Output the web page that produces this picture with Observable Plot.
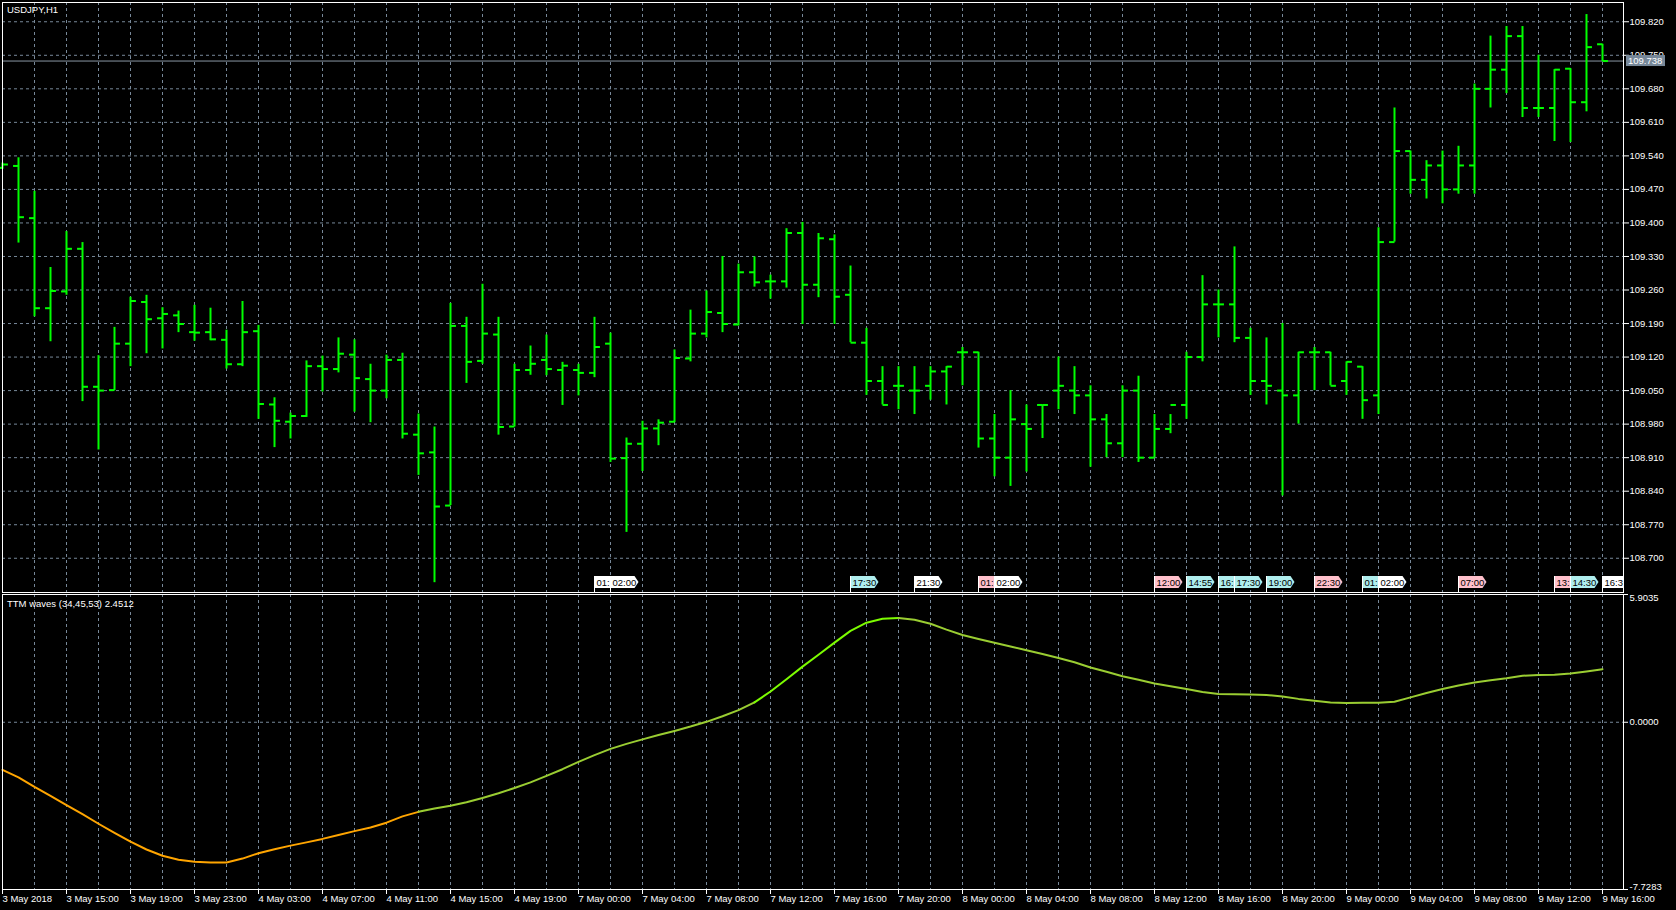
<!DOCTYPE html>
<html><head><meta charset="utf-8">
<script src="https://cdn.jsdelivr.net/npm/d3@7"></script>
<script src="https://cdn.jsdelivr.net/npm/@observablehq/plot@0.6"></script>
<style>
html,body{margin:0;padding:0;background:#000;}
#wrap{position:relative;width:1676px;height:910px;background:#000;overflow:hidden;font-family:"Liberation Sans",Arial,sans-serif;}
#main{position:absolute;left:0;top:0;}
#ind{position:absolute;left:0;top:593px;}
.lbl{position:absolute;color:#fff;font-size:9.5px;line-height:1;white-space:nowrap;}
</style></head><body>
<div id="wrap">
<div id="main"></div>
<div id="ind"></div>
<div class="lbl" style="left:7px;top:5px">USDJPY,H1</div>
<div class="lbl" style="left:7px;top:599px">TTM waves (34,45,53) 2.4512</div>
</div>
<script>
// ---- data ----
const open = [109.515,109.519,109.410,109.222,109.257,109.346,109.058,109.051,109.148,109.235,109.201,109.207,109.172,109.172,109.156,109.105,109.174,109.021,108.985,108.997,109.101,109.095,109.125,109.074,109.050,109.114,108.958,108.921,108.810,109.185,109.112,109.167,108.975,109.093,109.114,109.093,109.093,109.087,109.148,108.909,108.939,108.971,108.985,109.117,109.169,109.212,109.188,109.297,109.278,109.278,109.379,109.271,109.366,
109.25,109.15,109.07,109.06,109.05,109.06,109.09,109.13,109.13,108.95,108.91,108.98,109.02,109.05,109.05,109.04,108.99,108.94,109.05,108.91,108.97,109.02,109.12,109.23,109.23,109.16,109.07,109.05,109.04,109.13,109.13,109.07,109.10,109.04,109.36,109.55,109.49,109.52,109.47,109.52,109.68,109.72,109.79,109.64,109.64,109.722,109.652,109.773];
const high = [109.525,109.536,109.466,109.307,109.382,109.359,109.123,109.182,109.245,109.249,109.223,109.216,109.228,109.222,109.176,109.236,109.186,109.035,109.003,109.112,109.122,109.160,109.156,109.105,109.124,109.128,109.001,108.974,109.232,109.203,109.272,109.203,109.105,109.143,109.166,109.109,109.105,109.203,109.170,108.951,108.986,108.989,109.135,109.218,109.258,109.330,109.314,109.329,109.291,109.388,109.401,109.378,109.375,
109.31,109.18,109.10,109.10,109.10,109.10,109.10,109.14,109.13,109.00,109.05,109.02,109.02,109.12,109.10,109.06,109.00,109.06,109.08,109.00,109.00,109.13,109.29,109.26,109.35,109.18,109.16,109.19,109.13,109.14,109.13,109.11,109.10,109.39,109.64,109.55,109.53,109.55,109.56,109.69,109.79,109.81,109.81,109.75,109.72,109.722,109.835,109.773];
const low = [109.512,109.358,109.204,109.152,109.249,109.027,108.926,109.050,109.100,109.127,109.137,109.171,109.153,109.154,109.095,109.100,108.990,108.931,108.949,108.994,109.047,109.087,109.005,108.983,109.033,108.949,108.873,108.649,108.810,109.065,109.105,108.957,108.974,109.082,109.081,109.019,109.039,109.077,108.900,108.754,108.881,108.935,108.983,109.110,109.160,109.171,109.185,109.266,109.241,109.264,109.188,109.244,109.188,
109.15,109.04,109.02,109.01,109.00,109.03,109.02,109.06,108.93,108.87,108.85,108.88,108.95,109.01,109.00,108.89,108.91,108.91,108.90,108.91,108.96,108.99,109.11,109.16,109.15,109.04,109.02,108.83,108.98,109.05,109.06,109.04,108.99,109.00,109.36,109.46,109.45,109.44,109.46,109.46,109.64,109.67,109.62,109.62,109.57,109.568,109.632,109.737];
const close = [109.522,109.412,109.222,109.258,109.346,109.058,109.050,109.148,109.237,109.199,109.210,109.189,109.171,109.157,109.105,109.172,109.022,108.987,108.997,109.101,109.095,109.127,109.076,109.050,109.114,108.960,108.919,108.808,109.185,109.110,109.169,108.974,109.093,109.106,109.095,109.102,109.087,109.141,108.908,108.939,108.971,108.983,109.118,109.169,109.214,109.189,109.297,109.276,109.278,109.379,109.271,109.368,109.246,
109.15,109.07,109.02,109.06,109.05,109.09,109.10,109.13,108.95,108.91,108.99,108.97,109.02,109.06,109.04,108.99,108.94,109.05,108.91,108.97,109.02,109.12,109.23,109.23,109.16,109.07,109.06,109.04,109.13,109.13,109.06,109.11,109.03,109.36,109.55,109.49,109.52,109.47,109.52,109.68,109.72,109.79,109.64,109.64,109.72,109.652,109.767,109.738];
const currentPrice = 109.738;
const priceTicks = [109.820,109.750,109.680,109.610,109.540,109.470,109.400,109.330,109.260,109.190,109.120,109.050,108.980,108.910,108.840,108.770,108.700];

const waves = [-2.20,-2.55,-2.99,-3.40,-3.83,-4.25,-4.69,-5.11,-5.52,-5.88,-6.17,-6.35,-6.45,-6.48,-6.48,-6.30,-6.05,-5.87,-5.70,-5.55,-5.39,-5.21,-5.03,-4.86,-4.64,-4.35,-4.14,-3.99,-3.86,-3.70,-3.50,-3.28,-3.04,-2.78,-2.48,-2.17,-1.83,-1.52,-1.23,-1.00,-0.79,-0.59,-0.40,-0.20,0.02,0.28,0.56,0.92,1.42,1.99,2.57,3.12,3.68,4.22,4.60,4.78,4.82,4.74,4.55,4.28,4.03,3.85,3.67,3.50,3.33,3.15,2.97,2.77,2.53,2.33,2.13,1.96,1.79,1.66,1.54,1.40,1.31,1.29,1.28,1.26,1.19,1.08,0.99,0.91,0.89,0.90,0.90,0.95,1.15,1.35,1.54,1.70,1.84,1.94,2.03,2.15,2.18,2.20,2.25,2.35,2.4512];
const waveColorRuns = [
  {from: 0, to: 26, color: "#ffa500"},
  {from: 26, to: 47, color: "#9acd32"},
  {from: 47, to: 56, color: "#7cfc00"},
  {from: 56, to: 100, color: "#9acd32"}
];
const waveTicks = [5.9035, 0, -7.7283];

const xTickBars = [0,4,8,12,16,20,24,28,32,36,40,44,48,52,56,60,64,68,72,76,80,84,88,92,96,100];
const xLabels = ["3 May 2018","3 May 15:00","3 May 19:00","3 May 23:00","4 May 03:00","4 May 07:00","4 May 11:00","4 May 15:00","4 May 19:00","7 May 00:00","7 May 04:00","7 May 08:00","7 May 12:00","7 May 16:00","7 May 20:00","8 May 00:00","8 May 04:00","8 May 08:00","8 May 12:00","8 May 16:00","8 May 20:00","9 May 00:00","9 May 04:00","9 May 08:00","9 May 12:00","9 May 16:00"];

const eventBars = [37,38,53,57,61,62,72,74,76,77,79,82,85,86,91,97,98,100];
const eventTexts = ["01:","02:00","17:30","21:30","01:","02:00","12:00","14:55","16:","17:30","19:00","22:30","01:","02:00","07:00","13:","14:30","16:30"];
const eventKinds = ["white","white","cyan","white","pink","white","pink","cyan","cyan","cyan","cyan","pink","cyan","white","pink","pink","cyan","white"];
const eventFill = {white: "#ffffff", cyan: "#afeeee", pink: "#ffc0cb"};

// ---- styles ----
const GREEN = "#00ff00", GRID = "#778899", DASH = "3,3";
const FONT = '"Liberation Sans", Arial, sans-serif';
const XDOMAIN = [0, 101.3125];
const vGrid = d3.range(2, 101, 2);

const bars = open.map((o, i) => ({i, o, h: high[i], l: low[i], c: close[i]}));

const main = Plot.plot({
  width: 1676, height: 593,
  marginTop: 2, marginBottom: 1, marginLeft: 2, marginRight: 53,
  style: {background: "black", color: "white", fontFamily: FONT, fontSize: "9.5px", overflow: "visible"},
  x: {domain: XDOMAIN, axis: null},
  y: {domain: [108.6285, 109.8602], axis: null},
  marks: [
    Plot.ruleX(vGrid, {x: d => d, stroke: GRID, strokeDasharray: DASH}),
    Plot.ruleY(priceTicks, {y: d => d, stroke: GRID, strokeDasharray: DASH}),
    Plot.ruleY([currentPrice], {y: d => d, stroke: "#8a96a4"}),
    Plot.ruleX(bars, {x: "i", y1: "l", y2: "h", stroke: GREEN, strokeWidth: 2}),
    Plot.link(bars, {x1: d => d.i - 0.34, x2: "i", y1: "o", y2: "o", stroke: GREEN, strokeWidth: 2}),
    Plot.link(bars, {x1: "i", x2: d => d.i + 0.34, y1: "c", y2: "c", stroke: GREEN, strokeWidth: 2}),
    Plot.axisY({anchor: "right", ticks: priceTicks, tickFormat: d3.format(".3f"), tickSize: 5, tickPadding: 1, color: "white", label: null}),
    Plot.frame({stroke: "white"})
  ]
});
document.getElementById("main").appendChild(main);

// event flags and current price label, placed through the plot's scales
{
  const sx = main.scale("x"), sy = main.scale("y");
  const svg = d3.select(main);
  const left = sx.range[0], right = sx.range[1];
  const bottom = sy.range[0];
  svg.append("clipPath").attr("id", "frameclip").append("rect")
    .attr("x", left).attr("y", 0).attr("width", right - left).attr("height", bottom);
  const g = svg.append("g").attr("clip-path", "url(#frameclip)")
    .attr("font-family", FONT).attr("font-size", "9.5px").attr("text-anchor", "start");
  eventBars.forEach((b, k) => {
    const x0 = Math.round(sx.apply(b)) + 0.5;
    const yT = bottom - 16, yB = bottom - 4;
    g.append("path")
      .attr("d", `M${x0},${yT}H${x0 + 24}L${x0 + 28},${(yT + yB) / 2}L${x0 + 24},${yB}H${x0}Z`)
      .attr("fill", eventFill[eventKinds[k]]);
    g.append("line").attr("x1", x0).attr("x2", x0).attr("y1", yT).attr("y2", bottom)
      .attr("stroke", "white");
    g.append("text").attr("x", x0 + 2).attr("y", yB - 2.5).attr("fill", "black")
      .attr("text-anchor", "start").text(eventTexts[k]);
  });
  const yc = sy.apply(currentPrice);
  svg.append("rect").attr("x", right + 3).attr("y", yc - 5.5).attr("width", 39).attr("height", 11).attr("fill", "#778899");
  svg.append("text").attr("x", right + 5).attr("y", yc + 3.5).attr("fill", "white")
    .attr("text-anchor", "start")
    .attr("font-family", FONT).attr("font-size", "9.5px").text(d3.format(".3f")(currentPrice));
}

// ---- indicator ----
const waveSeries = waveColorRuns.flatMap((r, k) =>
  d3.range(r.from, r.to + 1).map(i => ({i, v: waves[i], run: k, color: r.color})));

const ind = Plot.plot({
  width: 1676, height: 317,
  marginTop: 1, marginBottom: 21, marginLeft: 2, marginRight: 53,
  style: {background: "black", color: "white", fontFamily: FONT, fontSize: "9.5px", overflow: "visible"},
  x: {domain: XDOMAIN, axis: null},
  y: {domain: [waveTicks[2], waveTicks[0]], axis: null},
  color: {type: "identity"},
  marks: [
    Plot.ruleX(vGrid, {x: d => d, stroke: GRID, strokeDasharray: DASH}),
    Plot.ruleY([0], {y: d => d, stroke: GRID, strokeDasharray: DASH}),
    Plot.line(waveSeries, {x: "i", y: "v", z: "run", stroke: "color", strokeWidth: 2}),
    Plot.axisX({anchor: "bottom", ticks: xTickBars, tickFormat: i => xLabels[xTickBars.indexOf(i)], tickSize: 5, tickPadding: 1, textAnchor: "start", dx: 0, color: "white", label: null}),
    Plot.axisY({anchor: "right", ticks: waveTicks, tickFormat: () => "", tickSize: 4, color: "white", label: null}),
    Plot.text([waveTicks[0]], {y: d => d, text: d => d.toFixed(4), frameAnchor: "right", textAnchor: "start", lineAnchor: "top", dx: 6, fill: "white"}),
    Plot.text([waveTicks[1]], {y: d => d, text: d => d.toFixed(4), frameAnchor: "right", textAnchor: "start", lineAnchor: "middle", dx: 6, fill: "white"}),
    Plot.text([waveTicks[2]], {y: d => d, text: d => d.toFixed(4), frameAnchor: "right", textAnchor: "start", lineAnchor: "bottom", dx: 6, fill: "white"}),
    Plot.frame({stroke: "white"})
  ]
});
document.getElementById("ind").appendChild(ind);
</script>
</body></html>
